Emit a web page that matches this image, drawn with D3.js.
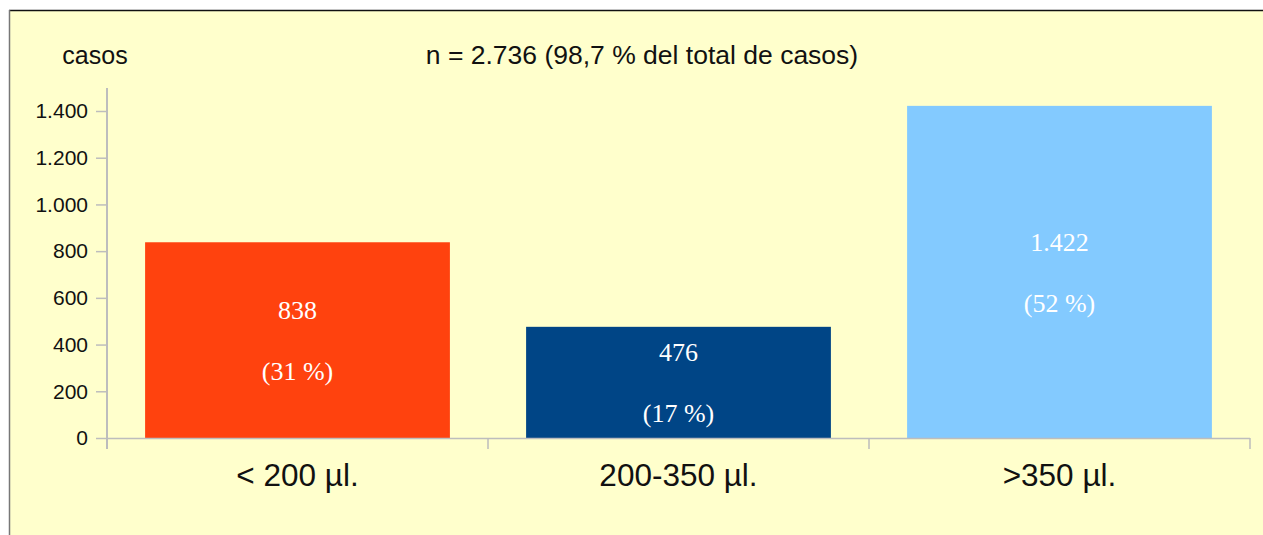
<!DOCTYPE html>
<html><head><meta charset="utf-8">
<script src="https://cdn.jsdelivr.net/npm/d3@7"></script>
<style>html,body{margin:0;padding:0;background:#fff;}svg{display:block;}</style>
</head><body>
<svg id="chart" width="1263" height="535"></svg>
<script>
const categories = ["< 200 µl.", "200-350 µl.", ">350 µl."];
const values = [838, 476, 1422];
const valueLabels = ["838", "476", "1.422"];
const pctLabels = ["(31 %)", "(17 %)", "(52 %)"];
const colors = ["#FF420E", "#004586", "#83CAFF"];
const yTicks = [0, 200, 400, 600, 800, 1000, 1200, 1400];
const yTickLabels = ["0", "200", "400", "600", "800", "1.000", "1.200", "1.400"];
const titleText = "n = 2.736 (98,7 % del total de casos)";
const yTitle = "casos";

(function () {
const svg = d3.select("#chart");
const W = 1263, H = 535;
svg.append("rect").attr("x", 9).attr("y", 10).attr("width", W).attr("height", H).attr("fill", "#FFFFCC");
svg.append("line").attr("x1", 9).attr("x2", W).attr("y1", 10.5).attr("y2", 10.5).attr("stroke", "#111").attr("stroke-width", 1.5);
svg.append("line").attr("x1", 9.5).attr("x2", 9.5).attr("y1", 10).attr("y2", H).attr("stroke", "#777").attr("stroke-width", 1.5);

const mLeft = 107, mRight = 1250, mTop = 111, mBottom = 438;
const x = d3.scaleBand().domain(categories).range([mLeft, mRight]).paddingInner(0.2).paddingOuter(0.1);
const y = d3.scaleLinear().domain([0, 1400]).range([mBottom, mTop]);

const axisColor = "#BDBDBD";
const yAxis = svg.append("g").attr("transform", `translate(${mLeft},0)`)
  .call(d3.axisLeft(y).tickValues(yTicks).tickFormat((d, i) => yTickLabels[i]).tickSize(11).tickPadding(8));
yAxis.select(".domain").remove();
yAxis.selectAll(".tick line").attr("stroke", axisColor).attr("stroke-width", 1.5);
yAxis.selectAll(".tick text").attr("font-family", "Liberation Sans, Arial, sans-serif").attr("font-size", 21).attr("fill", "#111");
svg.append("line").attr("x1", mLeft).attr("x2", mLeft).attr("y1", 88).attr("y2", 449).attr("stroke", axisColor).attr("stroke-width", 2);

svg.selectAll("rect.bar").data(values).enter().append("rect").attr("class", "bar")
  .attr("x", (d, i) => x(categories[i]))
  .attr("width", x.bandwidth())
  .attr("y", d => y(d))
  .attr("height", d => y(0) - y(d))
  .attr("fill", (d, i) => colors[i]);

svg.append("line").attr("x1", mLeft).attr("x2", mRight).attr("y1", mBottom + 0.5).attr("y2", mBottom + 0.5).attr("stroke", axisColor).attr("stroke-width", 1.5);
const bounds = d3.range(categories.length + 1).map(i => mLeft + i * (mRight - mLeft) / categories.length);
svg.selectAll("line.xt").data(bounds).enter().append("line").attr("class", "xt")
  .attr("x1", d => d).attr("x2", d => d).attr("y1", mBottom).attr("y2", 449)
  .attr("stroke", axisColor).attr("stroke-width", 1.5);

svg.selectAll("text.cat").data(categories).enter().append("text").attr("class", "cat")
  .attr("x", d => x(d) + x.bandwidth() / 2).attr("y", 486)
  .attr("text-anchor", "middle")
  .attr("font-family", "Liberation Sans, Arial, sans-serif").attr("font-size", 31.5).attr("fill", "#111")
  .text(d => d);

const gap = 61;
values.forEach((v, i) => {
  const cx = x(categories[i]) + x.bandwidth() / 2;
  const cy = (y(v) + y(0)) / 2;
  svg.append("text").attr("x", cx).attr("y", cy - gap / 2).attr("dy", "0.35em")
    .attr("text-anchor", "middle").attr("font-family", "Liberation Serif, Times New Roman, serif")
    .attr("font-size", 26).attr("fill", "#fff").text(valueLabels[i]);
  svg.append("text").attr("x", cx).attr("y", cy + gap / 2).attr("dy", "0.35em")
    .attr("text-anchor", "middle").attr("font-family", "Liberation Serif, Times New Roman, serif")
    .attr("font-size", 26).attr("fill", "#fff").text(pctLabels[i]);
});

svg.append("text").attr("x", 95).attr("y", 64).attr("text-anchor", "middle")
  .attr("font-family", "Liberation Sans, Arial, sans-serif").attr("font-size", 25).attr("fill", "#111").text(yTitle);
svg.append("text").attr("x", 642).attr("y", 64).attr("text-anchor", "middle")
  .attr("font-family", "Liberation Sans, Arial, sans-serif").attr("font-size", 26.5).attr("fill", "#111").text(titleText);
})();
</script>
</body></html>
